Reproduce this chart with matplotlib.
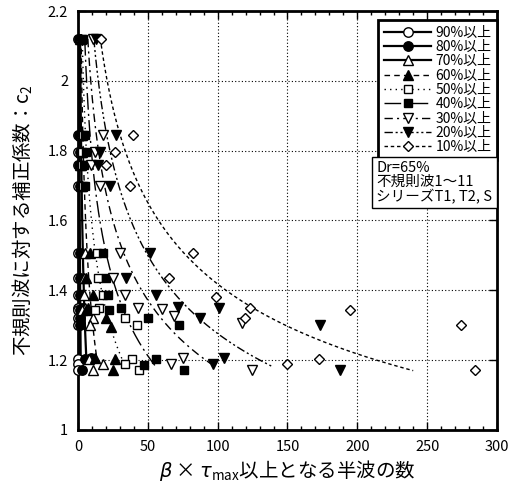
import matplotlib.pyplot as plt
import numpy as np
from matplotlib.lines import Line2D
from matplotlib.ticker import MultipleLocator

plt.rcParams['font.family'] = ['Noto Sans CJK JP', 'DejaVu Sans']
plt.rcParams['mathtext.fontset'] = 'dejavusans'

labels = ['90%以上', '80%以上', '70%以上', '60%以上', '50%以上',
          '40%以上', '30%以上', '20%以上', '10%以上']

# measured points, one list pair per threshold
x90 = [0.3, 0.3, 0.3, 0.3, 0.3, 0.3, 0.3, 0.0, 0.3, 0.3, 0.3, 0.0, 0.3, 0.0, 0.3]
y90 = [2.12, 1.845, 1.797, 1.759, 1.70, 1.506, 1.434, 1.386, 1.348, 1.343, 1.322, 1.30, 1.203, 1.188, 1.171]
x80 = [1.0, 1.0, 1.2, 1.0, 1.2, 1.5, 1.2, 1.5, 3.0, 1.5, 1.2, 1.5, 5.0, 9.0, 3.0]
y80 = [2.12, 1.845, 1.797, 1.759, 1.70, 1.506, 1.434, 1.386, 1.348, 1.343, 1.322, 1.30, 1.203, 1.205, 1.171]
x70 = [1.5, 2.0, 2.0, 1.5, 2.0, 5.0, 4.0, 4.0, 5.0, 3.0, 10.7, 8.4, 17.9, 8.0, 10.7]
y70 = [2.12, 1.845, 1.797, 1.759, 1.70, 1.506, 1.434, 1.386, 1.348, 1.343, 1.322, 1.30, 1.188, 1.203, 1.171]
x60 = [2.0, 2.5, 2.5, 2.0, 2.5, 8.4, 6.0, 10.7, 7.0, 6.0, 20.2, 23.8, 26.2, 11.9, 25.0]
y60 = [2.12, 1.845, 1.797, 1.759, 1.70, 1.506, 1.434, 1.386, 1.348, 1.343, 1.322, 1.296, 1.203, 1.205, 1.173]
x50 = [2.5, 3.5, 3.0, 2.5, 3.5, 13.8, 14.0, 17.9, 14.8, 12.0, 33.8, 42.4, 38.6, 33.3, 43.6]
y50 = [2.12, 1.845, 1.797, 1.759, 1.70, 1.506, 1.434, 1.386, 1.348, 1.343, 1.322, 1.30, 1.202, 1.188, 1.173]
x40 = [3.5, 5.0, 5.5, 4.0, 5.0, 17.9, 20.3, 21.4, 30.5, 22.2, 50.0, 72.6, 55.5, 47.0, 75.7]
y40 = [2.12, 1.845, 1.797, 1.759, 1.70, 1.506, 1.434, 1.386, 1.348, 1.343, 1.322, 1.30, 1.202, 1.186, 1.171]
x30 = [10.7, 17.9, 12.0, 9.5, 15.5, 30.2, 25.0, 33.8, 60.3, 42.9, 69.0, 117.4, 75.5, 66.7, 124.5]
y30 = [2.12, 1.845, 1.797, 1.759, 1.70, 1.506, 1.434, 1.386, 1.346, 1.348, 1.326, 1.307, 1.205, 1.189, 1.173]
x20 = [12.6, 27.4, 15.5, 14.3, 22.6, 51.7, 34.5, 56.0, 100.7, 71.4, 87.0, 173.4, 104.8, 96.4, 187.4]
y20 = [2.12, 1.845, 1.797, 1.759, 1.70, 1.506, 1.434, 1.386, 1.348, 1.353, 1.322, 1.302, 1.205, 1.189, 1.173]
x10 = [16.2, 39.5, 26.2, 19.8, 36.9, 82.1, 64.8, 98.8, 123.1, 195.0, 119.8, 274.5, 172.6, 150.0, 284.6]
y10 = [2.12, 1.845, 1.797, 1.759, 1.70, 1.506, 1.434, 1.381, 1.348, 1.343, 1.322, 1.30, 1.203, 1.188, 1.171]

# fitted curves (power law), start and end points
fit_start = [(0.3, 2.12), (0.8, 2.12), (1.5, 2.12), (2.2, 2.12), (3.0, 2.12),
             (4.8, 2.12), (7.0, 2.12), (11.3, 2.12), (16.0, 2.12)]
fit_end = [(0.8, 1.17), (2.0, 1.17), (6.0, 1.20), (14.0, 1.19), (33.0, 1.19),
           (55.0, 1.185), (95.0, 1.19), (140.0, 1.18), (240.0, 1.17)]

xs = [x90, x80, x70, x60, x50, x40, x30, x20, x10]
ys = [y90, y80, y70, y60, y50, y40, y30, y20, y10]
markers = ['o', 'o', '^', '^', 's', 's', 'v', 'v', 'D']
faces = ['white', 'black', 'white', 'black', 'white', 'black', 'white', 'black', 'white']
msizes = [6.8, 6.8, 7.2, 7.2, 6.3, 6.3, 7.2, 7.2, 5.3]
dashes = [None, None, None, (4, 3), (1, 3), (12, 3, 1.5, 3), (6, 3, 1.5, 3),
          (6, 2, 1.5, 2, 1.5, 2), (2.5, 2)]

fig = plt.figure(figsize=(5.15, 4.94), dpi=100)
ax = fig.add_axes([0.1515, 0.1296, 0.8135, 0.8481])

for i in range(9):
    (x0, y0), (x1, y1) = fit_start[i], fit_end[i]
    b = np.log(y1 / y0) / np.log(x1 / x0)
    cx = np.geomspace(x0, x1, 200)
    cy = y0 * (cx / x0) ** b
    ln, = ax.plot(cx, cy, color='black', lw=1.0 if i > 2 else 1.6, zorder=2)
    if dashes[i] is not None:
        ln.set_dashes(dashes[i])
    ax.plot(xs[i], ys[i], linestyle='none', marker=markers[i], ms=msizes[i],
            mfc=faces[i], mec='black', mew=1.0, clip_on=False, zorder=3)

ax.set_xlim(0, 300)
ax.set_ylim(1, 2.2)
ax.xaxis.set_minor_locator(MultipleLocator(10))
ax.set_yticks([1, 1.2, 1.4, 1.6, 1.8, 2, 2.2])
ax.set_yticklabels(['1', '1.2', '1.4', '1.6', '1.8', '2', '2.2'])
ax.set_xticks([0, 50, 100, 150, 200, 250, 300])
ax.set_xticklabels(['0', '50', '100', '150', '200', '250', '300'])
ax.tick_params(which='both', direction='in', top=True, right=True, labelsize=10.5, pad=7)
ax.tick_params(which='major', length=6, width=1)
ax.tick_params(which='minor', length=3, width=1)
ax.grid(True, which='major', color='black', linestyle=(0, (1, 2)), lw=0.8)
for s in ax.spines.values():
    s.set_linewidth(2)

ax.set_xlabel(r'$\beta$ × $\tau_{\mathregular{max}}$以上となる半波の数', fontsize=14, labelpad=3)
ax.set_ylabel(r'不規則波に対する補正係数：c$_{\mathregular{2}}$', fontsize=14, labelpad=9)

handles = []
for i in range(9):
    h = Line2D([], [], color='black', lw=1.0 if i > 2 else 1.6, marker=markers[i],
               ms=msizes[i], mfc=faces[i], mec='black')
    if dashes[i] is not None:
        h.set_dashes(dashes[i])
    handles.append(h)
leg = ax.legend(handles, labels, loc='upper right', bbox_to_anchor=(1.0, 0.978),
                borderaxespad=0, fontsize=10, labelspacing=0.02, handlelength=3.4,
                handletextpad=0.3, fancybox=False, framealpha=1, edgecolor='black',
                borderpad=0.4)
leg.get_frame().set_linewidth(2)
leg.set_zorder(5)

ax.text(0.712, 0.642, 'Dr=65%\n不規則波1～11\nシリーズT1, T2, S', transform=ax.transAxes,
        fontsize=10.5, va='top', ha='left', linespacing=1.0, zorder=6,
        bbox=dict(boxstyle='square,pad=0.3', fc='white', ec='black', lw=1))

fig.savefig('out.png', dpi=100)
